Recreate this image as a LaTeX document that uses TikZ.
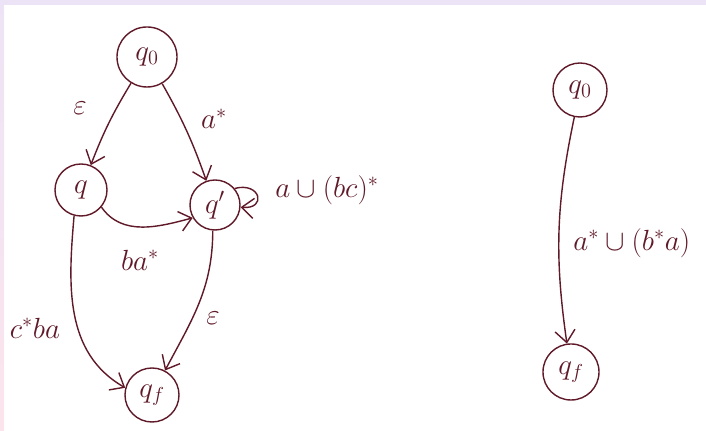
\documentclass[tikz,border=0pt]{standalone}
\usepackage{amsmath, amssymb}
\usetikzlibrary{arrows.meta, calc}
\definecolor{ink}{RGB}{95,25,40}
\definecolor{lav}{RGB}{236,228,246}
\definecolor{rosa}{RGB}{252,228,236}

\begin{document}
\begin{tikzpicture}[x=0.025cm, y=0.025cm, line width=1pt, ink,
    >={Straight Barb[length=3mm, width=5mm]},
    state/.style={circle, draw=ink, minimum size=1.3cm, inner sep=0pt, font=\huge},
    lbl/.style={font=\huge, text=ink}]
    \useasboundingbox (0,0) rectangle (706,431);

    % Rand
    \fill[lav] (0,426) rectangle (706,431);
    \shade[top color=lav, bottom color=rosa] (0,0) rectangle (4,431);

    % Zustaende links
    \node[state, minimum size=1.5cm] (q0L) at (147,374) {$q_0$};
    \node[state] (q) at (81,241) {$q$};
    \node[state, minimum size=1.25cm] (qp) at (215,226) {$q'$};
    \node[state, minimum size=1.35cm] (qfL) at (152,36) {$q_f$};

    % Zustaende rechts
    \node[state, minimum size=1.35cm] (q0R) at (580,341) {$q_0$};
    \node[state, minimum size=1.4cm] (qfR) at (571,59) {$q_f$};

    % Uebergaenge links
    \draw[->] (q0L) to[bend right=5] (q);
    \node[lbl] (eps1) at (80,323) {$\varepsilon$};
    \draw[->] (q0L) to[bend left=5] (qp);
    \node[lbl] (astar) at (214,312) {$a^*$};
    \draw[->] (q.-40) to[out=-55, in=195] (qp.210);
    \node[lbl] (bastar) at (140,171) {$ba^*$};
    \draw[->] (qp.40) to[out=15, in=-5, looseness=3.5] (qp.-5);
    \node[lbl, anchor=west] (loop) at (270,241) {$a\cup(bc)^*$};
    \draw[->] (q.-105) to[out=-95, in=150] (qfL.165);
    \node[lbl] (cstarba) at (35,103) {$c^*ba$};
    \draw[->] (qp.-95) to[out=-90, in=62] (qfL.62);
    \node[lbl] (eps2) at (213,113) {$\varepsilon$};

    % Uebergang rechts
    \draw[->] (q0R) to[bend right=10] (qfR);
    \node[lbl, anchor=west] (union) at (568,188) {$a^*\cup(b^*a)$};
\end{tikzpicture}
\end{document}
